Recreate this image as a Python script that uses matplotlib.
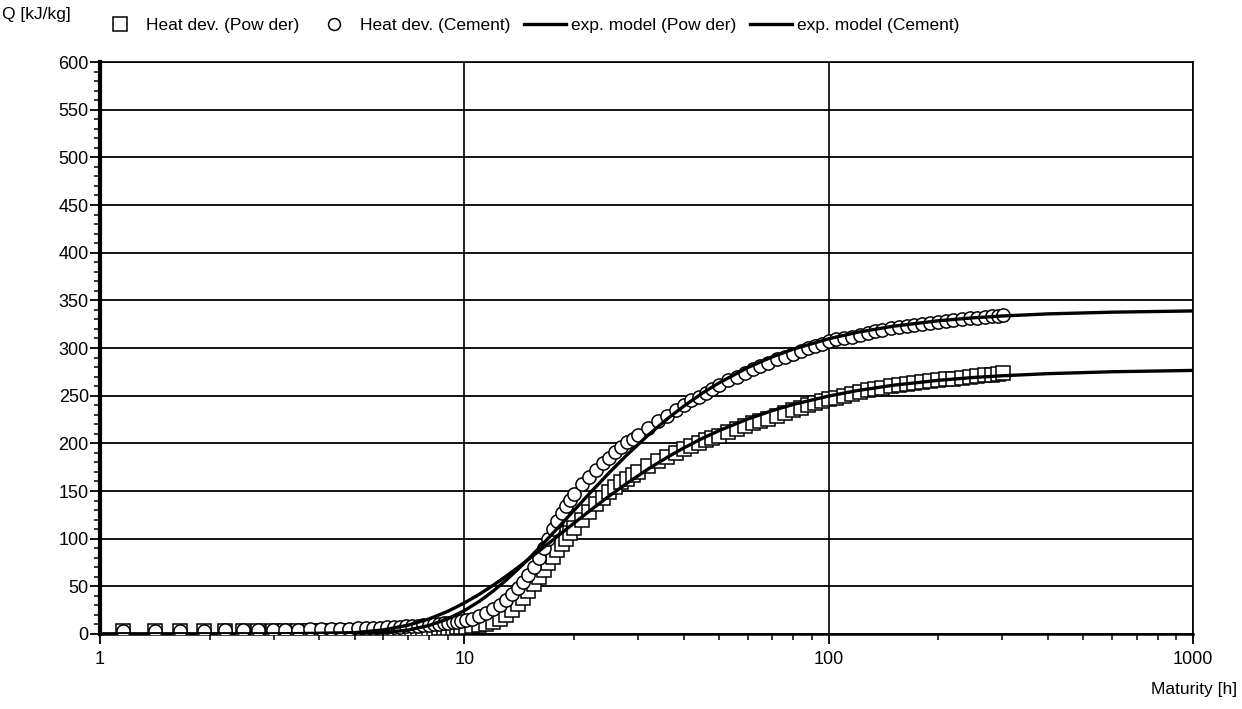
import matplotlib
matplotlib.use("Agg")
import matplotlib.pyplot as plt
from matplotlib.ticker import MultipleLocator, FixedLocator, NullFormatter

plt.rcParams['font.family'] = ['Liberation Sans', 'DejaVu Sans']

# measured heat development (maturity in h, Q in kJ/kg)
maturity = [1.16, 1.42, 1.66, 1.93, 2.20, 2.47, 2.72, 2.99, 3.22, 3.50, 3.77, 4.05, 4.31, 4.57,
            4.83, 5.10, 5.36, 5.62, 5.88, 6.15, 6.41, 6.67, 6.93, 7.20, 7.46, 7.72, 7.98, 8.25,
            8.51, 8.77, 9.03, 9.30, 9.56, 9.82, 10.1, 10.5, 11.0, 11.5, 12.0, 12.5, 13.0, 13.5,
            14.0, 14.5, 15.0, 15.5, 16.0, 16.5, 17.0, 17.5, 18.0, 18.5, 19.0, 19.5, 20.0, 21,
            22, 23, 24, 25, 26, 27, 28, 29, 30, 32, 34, 36, 38, 40, 42, 44, 46, 48, 50, 53, 56,
            59, 62, 65, 68, 72, 76, 80, 84, 88, 92, 96, 100, 105, 110, 116, 122, 128, 134, 140,
            148, 156, 164, 172, 180, 190, 200, 210, 220, 232, 244, 256, 268, 280, 292, 302]

q_cement = [3.5, 3.5, 3.5, 3.6, 3.7, 3.8, 4.0, 4.2, 4.4, 4.6, 4.8, 5.0, 5.2, 5.4,
            5.6, 5.8, 6.0, 6.3, 6.6, 6.9, 7.2, 7.6, 8.0, 8.4, 8.8, 9.2, 9.7, 10.2,
            10.7, 11.2, 11.8, 12.4, 13.0, 13.7, 14.5, 16, 18.5, 22, 26, 30.5, 36, 42,
            48, 55, 62, 70, 80, 90, 100, 110, 119, 127, 134, 141, 147, 157,
            165, 172, 179, 185, 191, 196, 201, 205, 209, 216, 223, 229, 235, 240, 245, 249, 253, 257, 261, 266, 270,
            274, 278, 281, 284, 288, 291, 294, 297, 300, 302, 304, 307, 309, 310, 312, 314, 316, 318, 319,
            321, 322, 323, 324, 325, 326, 327, 328, 329, 330, 331, 332, 333, 334, 334, 335]

q_powder = [3.5, 3.5, 3.6, 3.6, 3.5, 3.4, 3.2, 3.1, 3.0, 3.0, 3.0, 3.0, 3.0, 3.1,
            3.2, 3.3, 3.4, 3.5, 3.6, 3.8, 4.0, 4.2, 4.4, 4.6, 4.8, 5.0, 5.2, 5.5,
            5.8, 6.1, 6.4, 6.7, 7.0, 7.4, 7.8, 8.5, 9.5, 11, 13, 16, 20, 25,
            31, 38, 45, 52, 60, 67, 74, 81, 88, 94, 100, 106, 111, 120,
            128, 136, 143, 149, 154, 159, 163, 167, 170, 176, 181, 186, 190, 194, 197, 200, 203, 206, 208, 212, 215,
            218, 221, 223, 226, 229, 232, 235, 237, 240, 242, 244, 246, 248, 250, 252, 254, 256, 257, 258,
            260, 261, 262, 263, 264, 265, 266, 267, 268, 269, 270, 271, 272, 272, 273, 274]

# exponential model curves
model_t = [1, 3, 5, 6, 7, 8, 9, 10, 11, 12, 13, 14, 15, 16, 18, 20, 22, 25, 28, 32, 36, 40,
           45, 50, 60, 70, 80, 100, 120, 150, 200, 250, 300, 400, 600, 1000]
model_cement = [0, 0, 0.3, 1.4, 4.1, 8.9, 15.8, 24.5, 34.3, 45.0, 56.2, 67.5, 78.7, 89.8, 110.6,
                129.6, 146.8, 169.3, 188.1, 208.8, 225.4, 238.9, 252.6, 263.4, 279.5, 290.7,
                298.8, 309.7, 316.5, 322.8, 328.6, 331.7, 333.6, 335.8, 337.6, 338.9]
model_powder = [0, 0, 1.4, 4.3, 9.2, 15.8, 23.7, 32.5, 41.7, 51.1, 60.4, 69.5, 78.3, 86.7, 102.3,
                116.2, 128.7, 144.8, 158.3, 173.2, 185.2, 195.1, 205.2, 213.3, 225.5, 234.3,
                240.8, 249.6, 255.4, 260.9, 266.1, 269.1, 270.9, 273.1, 275.1, 276.5]

fig = plt.figure(figsize=(12.42, 7.09), dpi=100)
ax = fig.add_axes([0.0805, 0.1058, 0.88, 0.8067])

ax.plot(maturity, q_powder, linestyle='none', marker='s', markersize=10.5, markerfacecolor='white',
        markeredgecolor='black', markeredgewidth=1.1, zorder=3, label='Heat dev. (Pow der)')
ax.plot(maturity, q_cement, linestyle='none', marker='o', markersize=9.5, markerfacecolor='white',
        markeredgecolor='black', markeredgewidth=1.1, zorder=4, label='Heat dev. (Cement)')
ax.plot(model_t, model_powder, color='black', lw=2.4, zorder=5, label='exp. model (Pow der)')
ax.plot(model_t, model_cement, color='black', lw=2.4, zorder=5, label='exp. model (Cement)')

ax.set_xscale('log')
ax.set_xlim(1, 1000)
ax.set_ylim(0, 600)
ax.set_xticks([1, 10, 100, 1000])
ax.set_xticklabels(['1', '10', '100', '1000'])
ax.xaxis.set_minor_locator(FixedLocator([m * d for d in (1, 10, 100) for m in range(2, 10)]))
ax.xaxis.set_minor_formatter(NullFormatter())
ax.yaxis.set_major_locator(MultipleLocator(50))
ax.yaxis.set_minor_locator(MultipleLocator(10))

ax.grid(axis='y', which='major', color='black', lw=1.3)
ax.grid(axis='x', which='major', color='black', lw=1.2)
ax.set_axisbelow(True)

ax.tick_params(axis='both', which='major', direction='out', length=7, width=1.3,
               labelsize=13, colors='black', pad=1)
ax.tick_params(axis='both', which='minor', direction='out', length=4, width=1.1)
ax.tick_params(axis='x', which='major', pad=5)

ax.spines['left'].set_linewidth(3)
ax.spines['bottom'].set_linewidth(1.8)
ax.spines['top'].set_linewidth(1.2)
ax.spines['right'].set_linewidth(1.2)

fig.text(0.002, 0.99, 'Q [kJ/kg]', fontsize=12.5, va='top', ha='left')
fig.text(0.996, 0.028, 'Maturity [h]', fontsize=12.5, va='center', ha='right')

fig.legend(loc='upper left', bbox_to_anchor=(0.074, 0.985), ncol=4, frameon=False,
           fontsize=12.5, handlelength=2.4, handletextpad=0.3, columnspacing=0.8,
           borderaxespad=0, markerscale=0.9)

fig.savefig('out.png', dpi=100)
